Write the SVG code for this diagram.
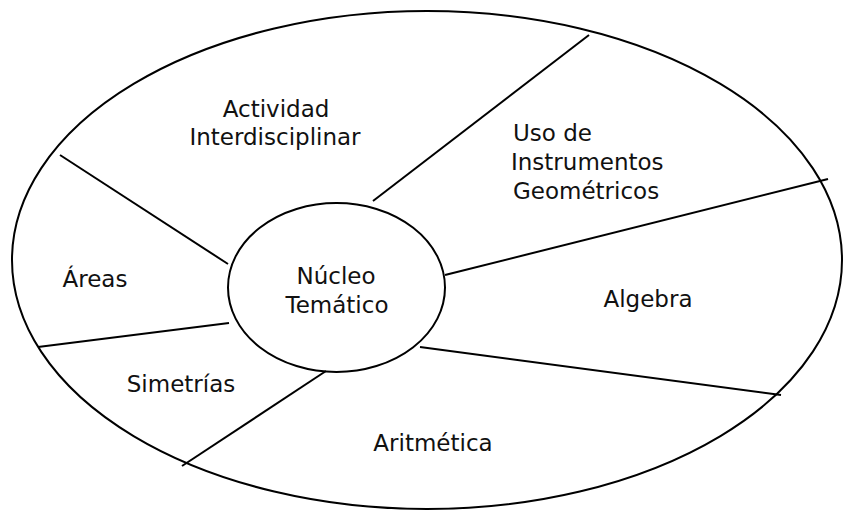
<svg xmlns="http://www.w3.org/2000/svg" width="843" height="512" viewBox="0 0 843 512">
<style>
.sh{fill:none;stroke:#000;stroke-width:2}
.ln{stroke:#000;stroke-width:2;fill:none}
text{font-family:"DejaVu Sans","Verdana",sans-serif;font-size:23px;fill:#111}
.c{text-anchor:middle}
</style>
<rect width="843" height="512" fill="#fff"/>
<g id="outer"><ellipse class="sh" cx="427" cy="260" rx="415" ry="249"/></g>
<g id="connectors">
<line class="ln" x1="60" y1="155" x2="228" y2="264"/>
<line class="ln" x1="589" y1="35" x2="373" y2="201"/>
<line class="ln" x1="445" y1="275" x2="828" y2="179"/>
<line class="ln" x1="420" y1="347" x2="781" y2="395"/>
<line class="ln" x1="326" y1="371" x2="182" y2="466"/>
<line class="ln" x1="38" y1="347" x2="229" y2="323"/>
</g>
<g id="nucleo"><ellipse class="sh" cx="336.5" cy="287.5" rx="108.5" ry="84.5"/>
<text class="c" x="336" y="284">Núcleo</text><text class="c" x="337" y="313">Temático</text></g>
<g id="actividad"><text class="c" x="276" y="117">Actividad</text><text class="c" x="275" y="145">Interdisciplinar</text></g>
<g id="uso"><text x="513" y="141">Uso de</text><text x="511" y="170">Instrumentos</text><text x="513" y="199">Geométricos</text></g>
<g id="areas"><text class="c" x="95" y="287">Áreas</text></g>
<g id="simetrias"><text class="c" x="181" y="392">Simetrías</text></g>
<g id="aritmetica"><text class="c" x="433" y="451">Aritmética</text></g>
<g id="algebra"><text class="c" x="648" y="307">Algebra</text></g>
</svg>
